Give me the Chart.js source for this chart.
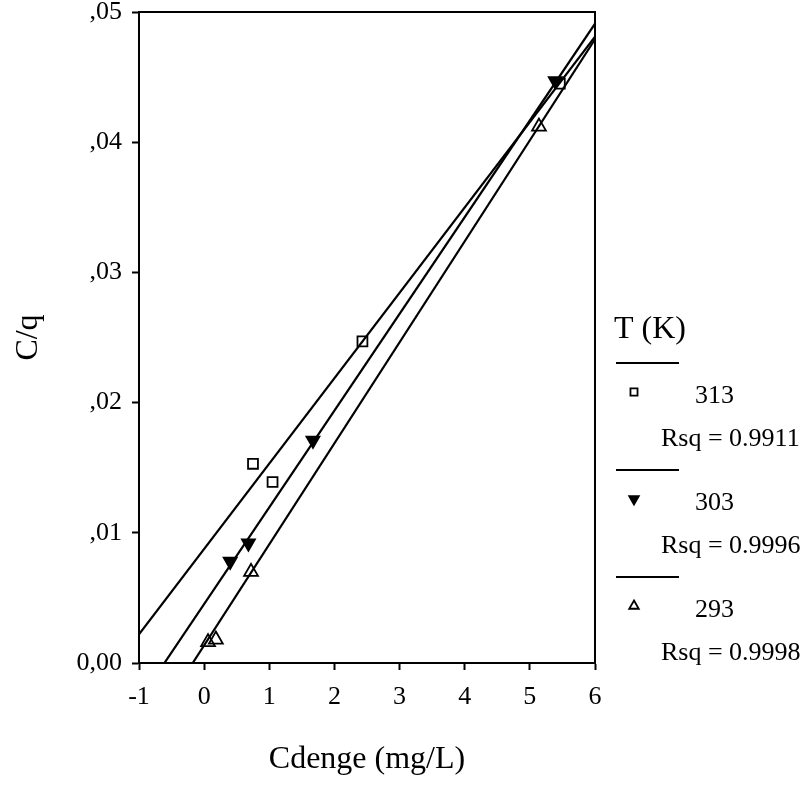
<!DOCTYPE html>
<html>
<head>
<meta charset="utf-8">
<script src="https://cdn.jsdelivr.net/npm/chart.js@4"></script>
<style>
  html, body { margin: 0; padding: 0; background: #fff; }
  #wrap { width: 810px; height: 791px; }
</style>
</head>
<body>
<div id="wrap"><canvas id="chart" width="810" height="791"></canvas></div>
<script>
// data
const xTickLabels = ['-1', '0', '1', '2', '3', '4', '5', '6'];
const yTickLabels = ['0,00', ',01', ',02', ',03', ',04', ',05'];

const seriesNames = ['313', '303', '293'];
const rsqLabels = ['Rsq = 0.9911', 'Rsq = 0.9996', 'Rsq = 0.9998'];

const x313 = [0.75, 1.05, 2.43, 5.46];
const y313 = [0.0153, 0.0139, 0.0247, 0.0445];
const x303 = [0.40, 0.68, 1.67, 5.39];
const y303 = [0.0078, 0.0092, 0.0171, 0.0447];
const x293 = [0.06, 0.18, 0.72, 5.14];
const y293 = [0.0016, 0.0018, 0.0070, 0.0412];

// fitted lines, end points read at x = -1 and x = 6
const fitX = [-1, 6];
const fit313 = [0.0022, 0.0481];
const fit303 = [-0.0029, 0.0491];
const fit293 = [-0.0064, 0.0479];

const serif = "'Liberation Serif', 'Times New Roman', serif";

const pts = (xs, ys) => xs.map((x, i) => ({x: x, y: ys[i]}));

const markers = [
    {pointStyle: 'rect', radius: 7, rotation: 0, fill: 'rgba(0,0,0,0)', legendRadius: 5},
    {pointStyle: 'triangle', radius: 7.5, rotation: 180, fill: '#000', legendRadius: 5.5},
    {pointStyle: 'triangle', radius: 8, rotation: 0, fill: 'rgba(0,0,0,0)', legendRadius: 5.5}
];

function markerSet(label, data, m) {
    return {
        label: label,
        data: data,
        showLine: false,
        pointStyle: m.pointStyle,
        pointRadius: m.radius,
        pointRotation: m.rotation,
        pointBackgroundColor: m.fill,
        pointBorderColor: '#000',
        pointBorderWidth: 1.8,
        order: 0
    };
}

function fitSet(data) {
    return {
        data: data,
        showLine: true,
        pointRadius: 0,
        borderColor: '#000',
        borderWidth: 2.2,
        order: 1
    };
}

// box round the plot area
const frame = {
    id: 'frame',
    afterDraw(chart) {
        const {ctx, chartArea: a} = chart;
        ctx.save();
        ctx.strokeStyle = '#000';
        ctx.lineWidth = 2;
        ctx.beginPath();
        ctx.moveTo(a.left, a.top);
        ctx.lineTo(a.right, a.top);
        ctx.lineTo(a.right, a.bottom);
        ctx.stroke();
        ctx.restore();
    }
};

// legend on the right, drawn like the original
const sideLegend = {
    id: 'sideLegend',
    afterDraw(chart) {
        const ctx = chart.ctx;
        ctx.save();
        ctx.fillStyle = '#000';
        ctx.strokeStyle = '#000';
        ctx.textBaseline = 'middle';
        ctx.textAlign = 'left';
        ctx.font = '32px ' + serif;
        ctx.fillText('T (K)', 614, 330);
        ctx.font = '26px ' + serif;
        for (let i = 0; i < seriesNames.length; i++) {
            const y0 = 363 + i * 107;
            ctx.lineWidth = 2;
            ctx.beginPath();
            ctx.moveTo(616, y0);
            ctx.lineTo(679, y0);
            ctx.stroke();
            const m = markers[i];
            ctx.fillStyle = m.fill;
            ctx.lineWidth = 1.8;
            Chart.helpers.drawPoint(ctx, {
                pointStyle: m.pointStyle,
                radius: m.legendRadius,
                rotation: m.rotation,
                borderWidth: 1.8
            }, 634, y0 + 29);
            ctx.fillStyle = '#000';
            ctx.fillText(seriesNames[i], 695, y0 + 33);
            ctx.fillText(rsqLabels[i], 661, y0 + 76);
        }
        ctx.restore();
    }
};

new Chart(document.getElementById('chart'), {
    type: 'scatter',
    data: {
        datasets: [
            markerSet(seriesNames[0], pts(x313, y313), markers[0]),
            markerSet(seriesNames[1], pts(x303, y303), markers[1]),
            markerSet(seriesNames[2], pts(x293, y293), markers[2]),
            fitSet(pts(fitX, fit313)),
            fitSet(pts(fitX, fit303)),
            fitSet(pts(fitX, fit293))
        ]
    },
    options: {
        responsive: false,
        animation: false,
        layout: {padding: {left: 0, right: 215, top: 12, bottom: 0}},
        plugins: {
            legend: {display: false},
            tooltip: {enabled: false}
        },
        scales: {
            x: {
                type: 'linear',
                min: -1,
                max: 6,
                afterFit: (s) => { s.height = 128; s.paddingLeft = 0; s.paddingRight = 0; },
                ticks: {
                    stepSize: 1,
                    color: '#000',
                    padding: 12,
                    font: {family: serif, size: 26},
                    callback: (v, i) => xTickLabels[i]
                },
                grid: {drawOnChartArea: false, drawTicks: true, tickLength: 7, tickWidth: 2, color: '#000'},
                border: {display: true, color: '#000', width: 2},
                title: {
                    display: true,
                    text: 'Cdenge (mg/L)',
                    color: '#000',
                    font: {family: serif, size: 32},
                    padding: {top: 0, bottom: 12}
                }
            },
            y: {
                type: 'linear',
                min: 0,
                max: 0.05,
                afterFit: (s) => { s.width = 139; s.paddingTop = 0; s.paddingBottom = 0; },
                ticks: {
                    stepSize: 0.01,
                    color: '#000',
                    padding: 10,
                    font: {family: serif, size: 26},
                    callback: (v, i) => yTickLabels[i]
                },
                grid: {drawOnChartArea: false, drawTicks: true, tickLength: 7, tickWidth: 2, color: '#000'},
                border: {display: true, color: '#000', width: 2},
                title: {
                    display: true,
                    text: 'C/q',
                    color: '#000',
                    font: {family: serif, size: 32},
                    padding: {top: 9, bottom: 0}
                }
            }
        }
    },
    plugins: [frame, sideLegend]
});
</script>
</body>
</html>
